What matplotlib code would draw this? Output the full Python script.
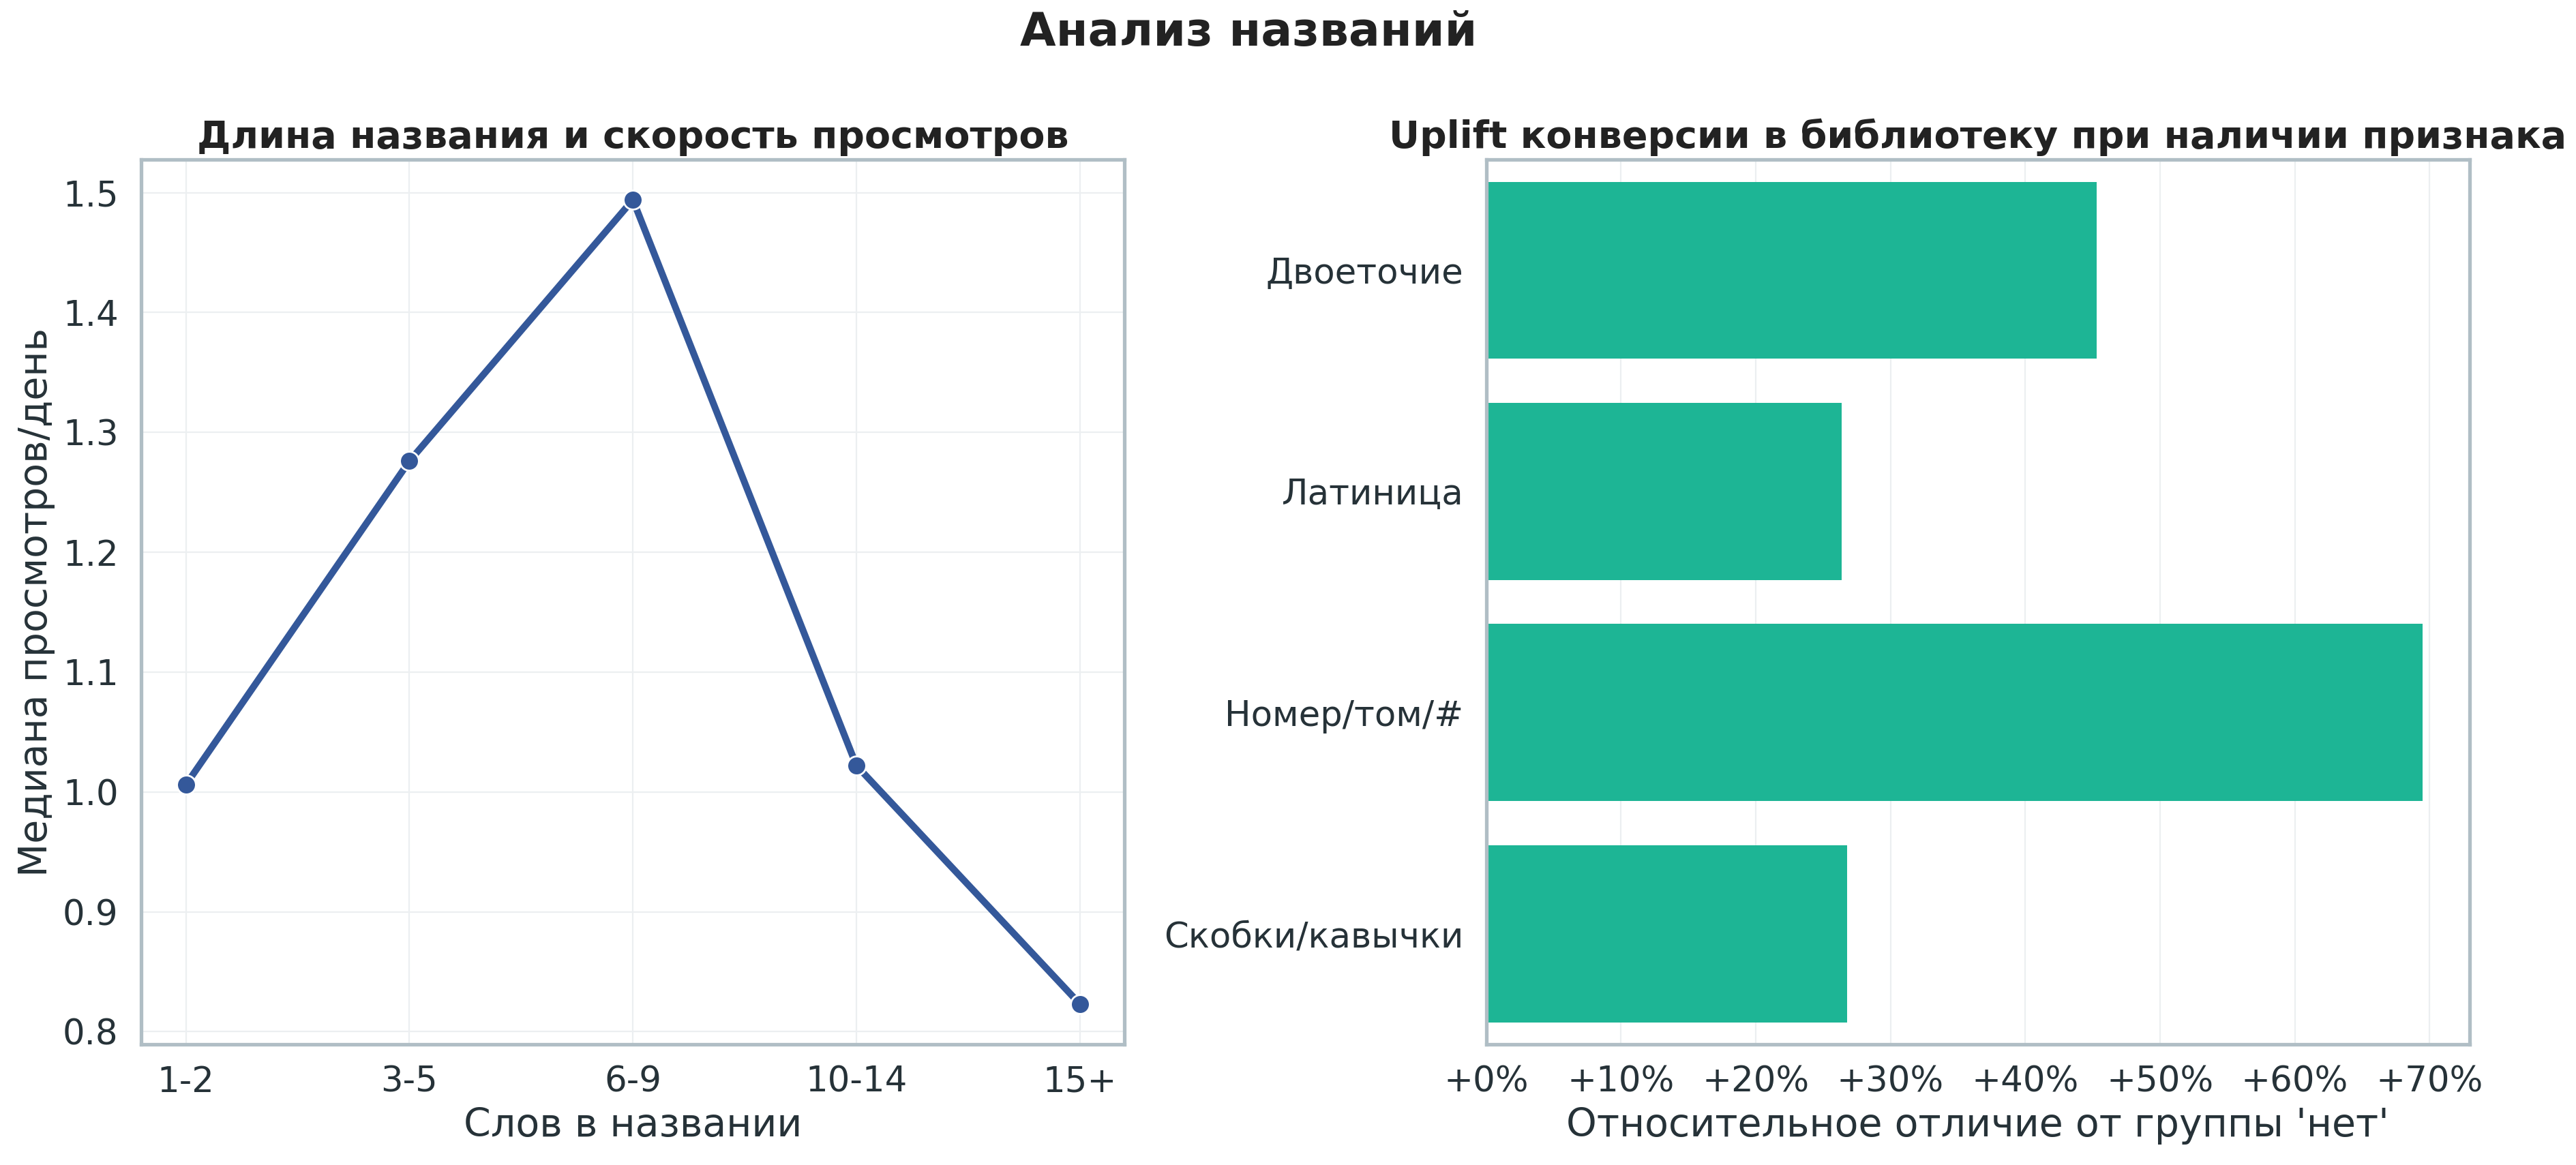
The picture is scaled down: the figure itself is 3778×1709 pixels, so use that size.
import numpy as np
import matplotlib
matplotlib.use("Agg")
import matplotlib.pyplot as plt
from matplotlib.ticker import FuncFormatter

# data
word_bins = ["1-2", "3-5", "6-9", "10-14", "15+"]
median_views = [1.006, 1.276, 1.494, 1.022, 0.823]

features = ["Двоеточие", "Латиница", "Номер/том/#", "Скобки/кавычки"]
uplift_pct = [45.3, 26.4, 69.5, 26.8]

text_col = "#263238"
spine_col = "#b0bec5"
grid_col = "#eceff1"

plt.rcParams["font.family"] = ["DejaVu Sans"]
plt.rcParams["text.color"] = text_col
plt.rcParams["axes.labelcolor"] = text_col
plt.rcParams["xtick.color"] = text_col
plt.rcParams["ytick.color"] = text_col

fig, (ax1, ax2) = plt.subplots(1, 2, figsize=(3778 / 200, 1709 / 200), dpi=200)
fig.subplots_adjust(left=0.0548, right=0.9587, bottom=0.1036, top=0.863, wspace=0.3675)

def style_axes(ax):
    ax.set_facecolor("white")
    for s in ax.spines.values():
        s.set_color(spine_col)
        s.set_linewidth(1.9)
    ax.grid(True, color=grid_col, linewidth=0.8)
    ax.set_axisbelow(True)
    ax.tick_params(axis="both", length=0, labelsize=18.5)
    ax.tick_params(axis="x", pad=11)
    ax.tick_params(axis="y", pad=12)

# left: title length vs view speed
x = np.arange(len(word_bins))
ax1.plot(x, median_views, color="#34589a", linewidth=3.6, marker="o",
         markersize=10, markeredgecolor="white", markeredgewidth=1.0)
ax1.set_xticks(x)
ax1.set_xticklabels(word_bins)
style_axes(ax1)
ax1.set_title("Длина названия и скорость просмотров", fontsize=20,
              fontweight="bold", color="#222222")
ax1.set_xlabel("Слов в названии", fontsize=20.5)
ax1.set_ylabel("Медиана просмотров/день", fontsize=20.5)

# right: uplift by feature
y = np.arange(len(features))
ax2.barh(y, uplift_pct, height=0.8, color="#1db595", zorder=2)
ax2.set_yticks(y)
ax2.set_yticklabels(features)
ax2.set_ylim(len(features) - 0.5, -0.5)
ax2.set_xlim(0, max(uplift_pct) * 1.05)
ax2.xaxis.set_major_formatter(FuncFormatter(lambda v, p: "+{:.0f}%".format(v)))
style_axes(ax2)
ax2.grid(False, axis="y")
ax2.set_title("Uplift конверсии в библиотеку при наличии признака", fontsize=20,
              fontweight="bold", color="#222222")
ax2.set_xlabel("Относительное отличие от группы 'нет'", fontsize=20.5)

fig.suptitle("Анализ названий", fontsize=24.5, fontweight="bold",
             color="#222222", x=0.4847, y=0.972, va="center")

fig.savefig("out.png", dpi=200, facecolor="white")
